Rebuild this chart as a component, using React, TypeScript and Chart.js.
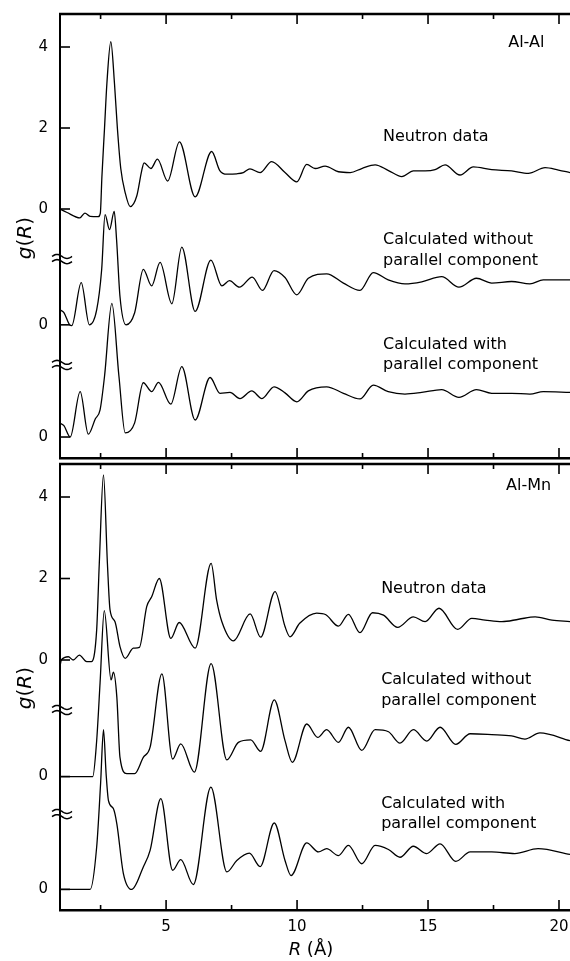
import React, { useEffect, useRef } from "react";
import { Chart, registerables } from "chart.js";

Chart.register(...registerables);

// ---------- axes ----------
const R_MIN = 0.95;
const R_MAX = 20.42;
const R_MAJOR_TICKS = [5, 10, 15, 20];
const R_MINOR_TICKS = [2.5, 7.5, 12.5, 17.5];
const R_TICK_LABELS = ["5", "10", "15", "20"];
const CURVE_OFFSETS = [0, -2.86, -5.63];
const G_TICK_VALUES = [4, 2, 0, -2.86, -5.63];
const G_TICK_LABELS = ["4", "2", "0", "0", "0"];

// ---------- Al-Al : neutron data ----------
const alAlNeutronR = [0.95, 1.2, 1.71, 1.9, 2.1, 2.41, 2.49, 2.55, 2.65, 2.74, 2.89, 3.03, 3.14, 3.27, 3.44, 3.63, 3.88, 4.07, 4.16, 4.42, 4.67, 5.06, 5.51, 6.11, 6.74, 7.05, 7.32, 7.7, 7.95, 8.2, 8.59, 9.03, 9.54, 9.99, 10.37, 10.69, 11.07, 11.58, 12.03, 12.47, 12.98, 13.49, 14.0, 14.44, 14.89, 15.27, 15.65, 16.22, 16.73, 17.43, 18.19, 18.83, 19.47, 19.98, 20.42];
const alAlNeutronG = [0, -0.08, -0.22, -0.1, -0.18, -0.19, -0.1, 0.8, 2.0, 3.1, 4.13, 3.1, 2.0, 1.0, 0.4, 0.06, 0.32, 0.95, 1.14, 1.0, 1.23, 0.69, 1.66, 0.3, 1.42, 0.95, 0.86, 0.87, 0.9, 0.99, 0.9, 1.17, 0.9, 0.67, 1.1, 1.0, 1.06, 0.92, 0.9, 1.0, 1.09, 0.95, 0.8, 0.94, 0.94, 0.97, 1.09, 0.84, 1.04, 0.97, 0.94, 0.88, 1.02, 0.96, 0.9];

// ---------- Al-Al : calculated without parallel component ----------
const alAlWithoutR = [0.95, 1.1, 1.3, 1.4, 1.76, 2.07, 2.35, 2.54, 2.67, 2.84, 3.02, 3.11, 3.24, 3.47, 3.8, 4.13, 4.45, 4.77, 5.22, 5.6, 6.11, 6.71, 7.13, 7.42, 7.8, 8.29, 8.68, 9.12, 9.54, 9.99, 10.43, 11.13, 11.77, 12.4, 12.91, 13.48, 14.12, 14.76, 15.52, 16.18, 16.85, 17.43, 18.19, 18.89, 19.4, 20.42];
const alAlWithoutG = [0.37, 0.3, 0.02, -0.02, 1.04, 0.0, 0.37, 1.36, 2.72, 2.35, 2.8, 2.1, 0.7, 0.0, 0.3, 1.37, 0.96, 1.54, 0.52, 1.92, 0.33, 1.6, 0.96, 1.09, 0.93, 1.18, 0.85, 1.34, 1.17, 0.74, 1.15, 1.26, 1.03, 0.85, 1.29, 1.11, 1.01, 1.06, 1.19, 0.93, 1.15, 1.03, 1.07, 1.01, 1.11, 1.11];

// ---------- Al-Al : calculated with parallel component ----------
const alAlWithR = [0.95, 1.1, 1.34, 1.72, 2.03, 2.3, 2.48, 2.65, 2.93, 3.2, 3.44, 3.8, 4.13, 4.45, 4.71, 5.18, 5.6, 6.11, 6.68, 7.06, 7.44, 7.82, 8.27, 8.66, 9.12, 9.54, 9.99, 10.43, 11.13, 11.77, 12.4, 12.91, 13.48, 14.12, 14.76, 15.52, 16.18, 16.85, 17.43, 18.19, 18.89, 19.4, 20.42];
const alAlWithG = [0.34, 0.28, 0.0, 1.12, 0.07, 0.45, 0.67, 1.5, 3.3, 1.5, 0.1, 0.35, 1.34, 1.12, 1.35, 0.81, 1.74, 0.42, 1.47, 1.08, 1.1, 0.95, 1.14, 0.95, 1.24, 1.09, 0.87, 1.14, 1.24, 1.08, 0.94, 1.28, 1.12, 1.06, 1.1, 1.17, 0.98, 1.17, 1.08, 1.08, 1.06, 1.12, 1.1];

// ---------- Al-Mn : neutron data ----------
const alMnNeutronR = [0.95, 1.0, 1.27, 1.45, 1.69, 1.97, 2.15, 2.35, 2.45, 2.61, 2.76, 2.86, 3.05, 3.24, 3.44, 3.75, 3.98, 4.26, 4.45, 4.74, 5.18, 5.5, 6.11, 6.72, 6.93, 7.13, 7.57, 8.21, 8.61, 9.16, 9.54, 9.73, 10.1, 10.75, 11.1, 11.58, 11.96, 12.4, 12.88, 13.3, 13.84, 14.44, 14.89, 15.42, 16.13, 16.67, 17.18, 17.82, 18.46, 19.09, 19.73, 20.42];
const alMnNeutronG = [-0.16, 0.0, 0.08, 0.0, 0.12, -0.04, -0.04, 0.74, 2.37, 4.54, 2.37, 1.23, 0.94, 0.33, 0.04, 0.29, 0.31, 1.31, 1.55, 2.0, 0.53, 0.92, 0.29, 2.37, 1.47, 0.94, 0.47, 1.13, 0.56, 1.68, 0.82, 0.57, 0.9, 1.15, 1.11, 0.83, 1.12, 0.67, 1.16, 1.1, 0.8, 1.06, 0.94, 1.27, 0.75, 1.02, 0.98, 0.94, 1.0, 1.06, 0.98, 0.94];

// ---------- Al-Mn : calculated without parallel component ----------
const alMnWithoutR = [0.95, 2.2, 2.35, 2.48, 2.64, 2.9, 2.99, 3.12, 3.24, 3.5, 3.8, 4.13, 4.39, 4.84, 5.25, 5.56, 6.08, 6.72, 7.32, 7.76, 8.23, 8.61, 9.13, 9.54, 9.82, 10.37, 10.79, 11.13, 11.58, 11.96, 12.47, 12.98, 13.49, 13.93, 14.44, 14.95, 15.46, 16.06, 16.61, 17.43, 18.19, 18.7, 19.27, 20.42];
const alMnWithoutG = [0, 0, 0.88, 2.3, 4.07, 2.37, 2.56, 1.95, 0.47, 0.07, 0.07, 0.47, 0.72, 2.52, 0.43, 0.8, 0.11, 2.77, 0.41, 0.84, 0.9, 0.62, 1.88, 0.88, 0.35, 1.29, 0.96, 1.15, 0.84, 1.21, 0.64, 1.15, 1.1, 0.82, 1.15, 0.87, 1.21, 0.79, 1.05, 1.03, 1.0, 0.92, 1.07, 0.88];

// ---------- Al-Mn : calculated with parallel component ----------
const alMnWithR = [0.95, 2.1, 2.35, 2.5, 2.61, 2.71, 2.8, 2.99, 3.12, 3.37, 3.69, 4.13, 4.39, 4.8, 5.25, 5.56, 6.04, 6.71, 7.32, 7.7, 8.18, 8.59, 9.13, 9.54, 9.77, 10.37, 10.82, 11.13, 11.58, 11.96, 12.47, 12.98, 13.49, 13.93, 14.44, 14.95, 15.46, 16.06, 16.61, 17.43, 18.31, 19.2, 20.42];
const alMnWithG = [0, 0, 1.04, 2.6, 3.92, 2.84, 2.18, 1.98, 1.61, 0.39, 0.0, 0.55, 0.96, 2.23, 0.47, 0.73, 0.12, 2.51, 0.43, 0.71, 0.89, 0.56, 1.63, 0.71, 0.34, 1.14, 0.92, 1.0, 0.83, 1.08, 0.63, 1.08, 0.98, 0.79, 1.06, 0.88, 1.12, 0.69, 0.92, 0.92, 0.88, 1.0, 0.86];

// ---------- texts ----------
const PANEL_NAMES = ["Al-Al", "Al-Mn"];
const CAPTION_NEUTRON = ["Neutron data"];
const CAPTION_WITHOUT = ["Calculated without", "parallel component"];
const CAPTION_WITH = ["Calculated with", "parallel component"];
const Y_TITLE = [["g", true], ["(", false], ["R", true], [")", false]] as [string, boolean][];
const X_TITLE = [["R", true], [" (Å)", false]] as [string, boolean][];

const FONT = '"DejaVu Sans", "Liberation Sans", sans-serif';

type Curve = { r: number[]; g: number[] };
type Caption = { text: string; r: number; g: number };
type PanelSpec = {
  id: string;
  top: number;
  height: number;
  padTop: number;
  xAxisHeight: number;
  showXLabels: boolean;
  yMin: number;
  yMax: number;
  curves: Curve[];
  breaks: number[];
  captions: Caption[];
  yTitleAt: number;
  xTitleR?: number;
};

function captionsFor(name: string, nameR: number, nameG: number, left: number, gN: number, gWo: number, gW: number, lh: number): Caption[] {
  const out: Caption[] = [{ text: name, r: nameR, g: nameG }];
  CAPTION_NEUTRON.forEach((t, i) => out.push({ text: t, r: left, g: gN - i * lh }));
  CAPTION_WITHOUT.forEach((t, i) => out.push({ text: t, r: left, g: gWo - i * lh }));
  CAPTION_WITH.forEach((t, i) => out.push({ text: t, r: left, g: gW - i * lh }));
  return out;
}

const PANELS: PanelSpec[] = [
  {
    id: "alal",
    top: 0,
    height: 460,
    padTop: 14,
    xAxisHeight: 2,
    showXLabels: false,
    yMin: -6.148,
    yMax: 4.815,
    curves: [
      { r: alAlNeutronR, g: alAlNeutronG },
      { r: alAlWithoutR, g: alAlWithoutG },
      { r: alAlWithR, g: alAlWithG },
    ],
    breaks: [-1.235, -3.85],
    captions: captionsFor(PANEL_NAMES[0], 18.06, 4.1, 13.28, 1.78, -0.77, -3.36, 0.5),
    yTitleAt: -0.72,
  },
  {
    id: "almn",
    top: 460,
    height: 501,
    padTop: 4,
    xAxisHeight: 51,
    showXLabels: true,
    yMin: -6.135,
    yMax: 4.81,
    curves: [
      { r: alMnNeutronR, g: alMnNeutronG },
      { r: alMnWithoutR, g: alMnWithoutG },
      { r: alMnWithR, g: alMnWithG },
    ],
    breaks: [-1.227, -3.78],
    captions: captionsFor(PANEL_NAMES[1], 17.98, 4.27, 13.21, 1.74, -0.49, -3.53, 0.5),
    yTitleAt: -0.69,
    xTitleR: 10.53,
  },
];

function drawMixed(ctx: CanvasRenderingContext2D, parts: [string, boolean][], size: number, cx: number, cy: number, angle: number) {
  ctx.save();
  ctx.translate(cx, cy);
  ctx.rotate(angle);
  ctx.textBaseline = "middle";
  ctx.textAlign = "left";
  const fontOf = (it: boolean) => `${it ? "italic " : ""}${size}px ${FONT}`;
  let total = 0;
  const widths = parts.map(([t, it]) => {
    ctx.font = fontOf(it);
    const w = ctx.measureText(t).width;
    total += w;
    return w;
  });
  let x = -total / 2;
  parts.forEach(([t, it], i) => {
    ctx.font = fontOf(it);
    ctx.fillText(t, x, 0);
    x += widths[i];
  });
  ctx.restore();
}

function drawBreak(ctx: CanvasRenderingContext2D, x: number, y: number) {
  ctx.lineWidth = 1.5;
  for (const dy of [-2.6, 2.6]) {
    ctx.beginPath();
    for (let t = 0; t <= 20; t++) {
      const px = x - 8 + t;
      const py = y + dy - 2 * Math.sin((t / 20) * 2 * Math.PI);
      if (t === 0) ctx.moveTo(px, py);
      else ctx.lineTo(px, py);
    }
    ctx.stroke();
  }
}

function makeOverlay(spec: PanelSpec) {
  return {
    id: "overlay_" + spec.id,
    afterDraw(chart: any) {
      const { ctx, chartArea: a } = chart;
      const xs = chart.scales.x;
      const ys = chart.scales.y;
      ctx.save();
      ctx.strokeStyle = "#000";
      ctx.fillStyle = "#000";
      // top frame line
      ctx.lineWidth = 2.5;
      ctx.beginPath();
      ctx.moveTo(a.left - 1, a.top);
      ctx.lineTo(a.right, a.top);
      ctx.stroke();
      // inward x ticks on top and bottom edges
      ctx.lineWidth = 1.6;
      const drawX = (vals: number[], len: number) =>
        vals.forEach((v) => {
          const px = xs.getPixelForValue(v);
          ctx.beginPath();
          ctx.moveTo(px, a.top);
          ctx.lineTo(px, a.top + len);
          ctx.moveTo(px, a.bottom);
          ctx.lineTo(px, a.bottom - len);
          ctx.stroke();
        });
      drawX(R_MAJOR_TICKS, 10);
      drawX(R_MINOR_TICKS, 5);
      // inward y ticks
      G_TICK_VALUES.forEach((v) => {
        const py = ys.getPixelForValue(v);
        ctx.beginPath();
        ctx.moveTo(a.left, py);
        ctx.lineTo(a.left + 10, py);
        ctx.stroke();
      });
      // axis breaks
      spec.breaks.forEach((v) => drawBreak(ctx, a.left, ys.getPixelForValue(v)));
      // captions
      ctx.font = `16px ${FONT}`;
      ctx.textAlign = "left";
      ctx.textBaseline = "middle";
      spec.captions.forEach((c) => ctx.fillText(c.text, xs.getPixelForValue(c.r), ys.getPixelForValue(c.g)));
      // axis titles
      drawMixed(ctx, Y_TITLE, 20, 26, ys.getPixelForValue(spec.yTitleAt), -Math.PI / 2);
      if (spec.xTitleR !== undefined) {
        drawMixed(ctx, X_TITLE, 18, xs.getPixelForValue(spec.xTitleR), a.bottom + 40, 0);
      }
      ctx.restore();
    },
  };
}

function zeroPadding(axis: any) {
  axis.paddingTop = 0;
  axis.paddingBottom = 0;
  axis.paddingLeft = 0;
  axis.paddingRight = 0;
}

function Panel({ spec }: { spec: PanelSpec }) {
  const ref = useRef<HTMLCanvasElement>(null);
  useEffect(() => {
    const chart = new Chart(ref.current!, {
      type: "line",
      data: {
        datasets: spec.curves.map((c, i) => ({
          data: c.r.map((r, j) => ({ x: r, y: c.g[j] + CURVE_OFFSETS[i] })),
          borderColor: "#000",
          borderWidth: 1.3,
          pointRadius: 0,
          fill: false,
          cubicInterpolationMode: "monotone" as const,
        })),
      },
      options: {
        responsive: false,
        animation: false,
        devicePixelRatio: 1,
        events: [],
        layout: { padding: { top: spec.padTop, left: 0, right: 0, bottom: 0 } },
        plugins: { legend: { display: false }, tooltip: { enabled: false } },
        scales: {
          x: {
            type: "linear",
            min: R_MIN,
            max: R_MAX,
            grid: { display: false, drawTicks: false },
            border: { display: true, color: "#000", width: 2.5 },
            ticks: {
              display: spec.showXLabels,
              padding: 8,
              color: "#000",
              maxRotation: 0,
              font: { family: FONT, size: 15 },
              callback: (v: any) => {
                const i = R_MAJOR_TICKS.findIndex((t) => Math.abs(t - Number(v)) < 1e-6);
                return i >= 0 ? R_TICK_LABELS[i] : "";
              },
            },
            afterBuildTicks: (axis: any) => {
              axis.ticks = R_MAJOR_TICKS.map((v) => ({ value: v }));
            },
            afterFit: (axis: any) => {
              axis.height = spec.xAxisHeight;
              zeroPadding(axis);
            },
          },
          y: {
            type: "linear",
            min: spec.yMin,
            max: spec.yMax,
            grid: { display: false, drawTicks: false },
            border: { display: true, color: "#000", width: 2 },
            ticks: {
              padding: 12,
              color: "#000",
              font: { family: FONT, size: 15 },
              callback: (v: any) => {
                const i = G_TICK_VALUES.findIndex((t) => Math.abs(t - Number(v)) < 1e-6);
                return i >= 0 ? G_TICK_LABELS[i] : "";
              },
            },
            afterBuildTicks: (axis: any) => {
              axis.ticks = G_TICK_VALUES.map((v) => ({ value: v }));
            },
            afterFit: (axis: any) => {
              axis.width = 60;
              zeroPadding(axis);
            },
          },
        },
      },
      plugins: [makeOverlay(spec)],
    } as any);
    return () => chart.destroy();
  }, [spec]);
  return (
    <canvas
      ref={ref}
      width={570}
      height={spec.height}
      style={{ position: "absolute", left: 0, top: spec.top, width: 570, height: spec.height, display: "block" }}
    />
  );
}

export default function App() {
  return (
    <div style={{ position: "absolute", left: 0, top: 0, width: 570, height: 961, background: "#fff" }}>
      {PANELS.map((p) => (
        <Panel key={p.id} spec={p} />
      ))}
    </div>
  );
}
